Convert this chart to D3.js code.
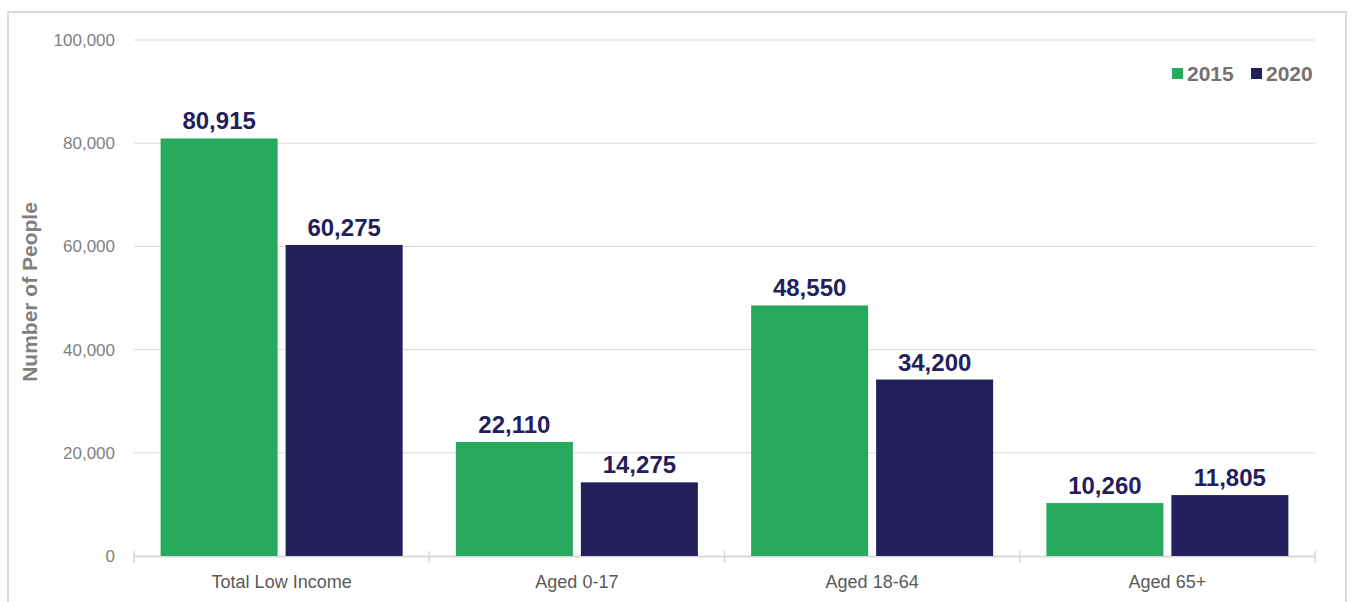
<!DOCTYPE html>
<html><head><meta charset="utf-8">
<script src="https://cdn.jsdelivr.net/npm/d3@7"></script>
<style>body{margin:0;background:#fff}svg{display:block;font-family:"Liberation Sans",Arial,sans-serif}</style>
</head><body><svg id="c" width="1351" height="602"></svg>
<script>
const categories = ["Total Low Income", "Aged 0-17", "Aged 18-64", "Aged 65+"];
const seriesNames = ["2015", "2020"];
const values2015 = [80915, 22110, 48550, 10260];
const values2020 = [60275, 14275, 34200, 11805];
const yTicks = [0, 20000, 40000, 60000, 80000, 100000];
const colors = ["#27AA5E", "#231F5C"];

(function () {
const svg = d3.select("#c");
svg.append("rect").attr("x", 8).attr("y", 12).attr("width", 1338).attr("height", 600)
  .attr("fill", "none").attr("stroke", "#d9d9d9").attr("stroke-width", 2);

const pLeft = 134, pRight = 1315, pTop = 40, pBottom = 556;
const x = d3.scaleBand().domain(categories).range([pLeft, pRight]).paddingInner(0).paddingOuter(0);
const y = d3.scaleLinear().domain([0, 100000]).range([pBottom, pTop]);

// gridlines
svg.append("g").selectAll("line").data(yTicks.filter(d => d > 0)).join("line")
  .attr("x1", pLeft).attr("x2", pRight).attr("y1", d => y(d)).attr("y2", d => y(d))
  .attr("stroke", "#d9d9d9").attr("stroke-width", 1);

// y tick labels
const yAxis = svg.append("g").attr("transform", `translate(${pLeft},0)`)
  .call(d3.axisLeft(y).tickValues(yTicks).tickSize(0).tickPadding(19).tickFormat(d3.format(",")));
yAxis.select(".domain").remove();
yAxis.selectAll("text").attr("fill", "#7f7f7f").style("font-size", "17px");

// x axis
const xAxis = svg.append("g").attr("transform", `translate(0,${pBottom})`)
  .call(d3.axisBottom(x).tickSize(0).tickPadding(19));
xAxis.select(".domain").attr("stroke", "#d9d9d9").attr("stroke-width", 2);
xAxis.selectAll("text").attr("fill", "#595959").style("font-size", "18px");
xAxis.attr("font-family", null); yAxis.attr("font-family", null);
const bounds = categories.map(c => x(c)).concat([pRight]);
svg.append("g").selectAll("line").data(bounds).join("line")
  .attr("x1", d => d).attr("x2", d => d).attr("y1", pBottom - 5).attr("y2", pBottom + 7)
  .attr("stroke", "#d9d9d9").attr("stroke-width", 1.5);

const x1 = d3.scaleBand().domain(seriesNames).range([0, x.bandwidth()]).paddingInner(0.064).paddingOuter(0.213);
const series = [values2015, values2020];
series.forEach((vals, si) => {
  const g = svg.append("g");
  g.selectAll("rect").data(vals).join("rect")
    .attr("x", (d, i) => x(categories[i]) + x1(seriesNames[si]))
    .attr("y", d => y(d)).attr("width", x1.bandwidth()).attr("height", d => y(0) - y(d))
    .attr("fill", colors[si]);
  g.selectAll("text").data(vals).join("text")
    .attr("x", (d, i) => x(categories[i]) + x1(seriesNames[si]) + x1.bandwidth() / 2)
    .attr("y", d => y(d) - 9).attr("text-anchor", "middle")
    .attr("fill", "#231F5C").style("font-size", "24px").style("font-weight", "bold")
    .text(d => d3.format(",")(d));
});

// y axis title
svg.append("text").attr("transform", "translate(37,292) rotate(-90)").attr("text-anchor", "middle")
  .attr("fill", "#7f7f7f").style("font-size", "21px").style("font-weight", "bold").text("Number of People");

// legend
const legendX = [1172, 1251];
seriesNames.forEach((s, i) => {
  svg.append("rect").attr("x", legendX[i]).attr("y", 68).attr("width", 11).attr("height", 11).attr("fill", colors[i]);
  svg.append("text").attr("x", legendX[i] + 15).attr("y", 81).attr("fill", "#767171")
    .style("font-size", "21px").style("font-weight", "bold").text(s);
});
})();
</script></body></html>
